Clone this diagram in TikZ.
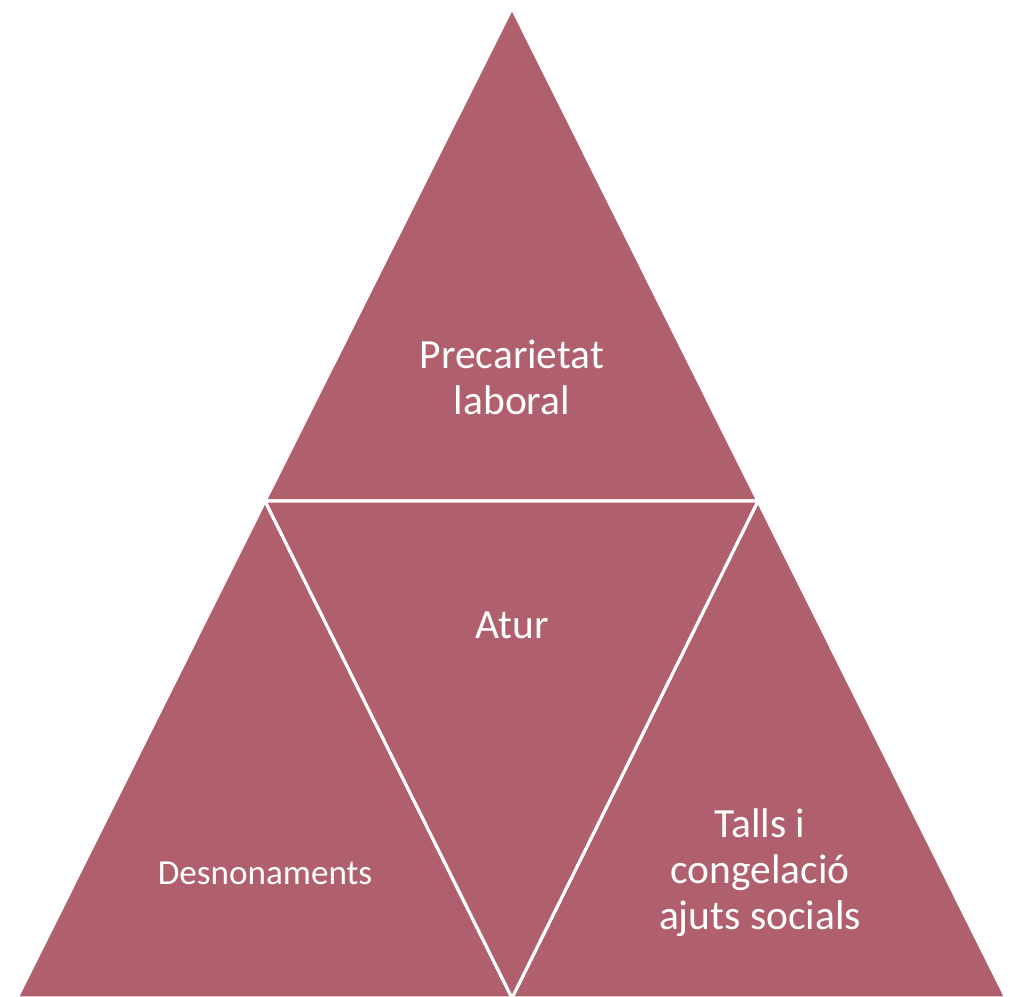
\documentclass[tikz,border=0pt]{standalone}
\usepackage{fontspec}
\setmainfont{Carlito}
\definecolor{wine}{RGB}{176,96,108}
\tikzset{
	tri/.style={fill=wine,draw=white,line width=2.2pt,line join=miter},
	lbl/.style={text=white,align=center,font=\fontsize{29.5}{32.7}\selectfont},
	lblsmall/.style={text=white,align=center,font=\fontsize{25}{28}\selectfont}
}
\begin{document}
\begin{tikzpicture}[x=0.025cm,y=-0.025cm]
	\useasboundingbox (0,0) rectangle (1015,996);
	% corners
	\coordinate (top) at (512,8);
	\coordinate (ml) at (265,501);
	\coordinate (mr) at (758,501);
	\coordinate (bl) at (17,998);
	\coordinate (bm) at (512,998);
	\coordinate (br) at (1006,998);
	% triangles
	\fill[wine] (top) -- (bl) -- (br) -- cycle;
	\draw[tri] (top) -- (ml) -- (mr) -- cycle;
	\draw[tri] (ml) -- (bl) -- (bm) -- cycle;
	\draw[tri] (mr) -- (bm) -- (br) -- cycle;
	\draw[tri] (ml) -- (mr) -- (bm) -- cycle;
	% labels
	\node[lbl] (precarietat) at (512,377) {Precarietat\\laboral};
	\node[lbl] (atur) at (512,625) {Atur};
	\node[lblsmall] (desnonaments) at (265,873) {Desnonaments};
	\node[lbl] (talls) at (760,873) {Talls i\\congelació\\ajuts socials};
\end{tikzpicture}
\end{document}
